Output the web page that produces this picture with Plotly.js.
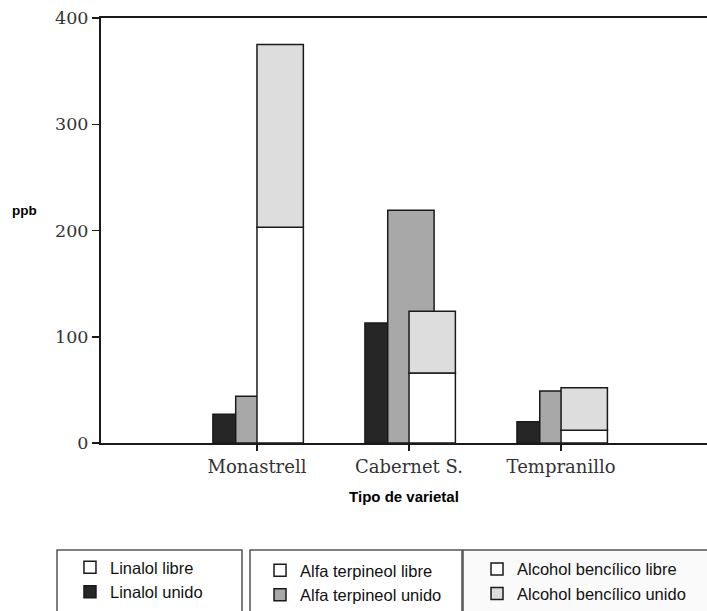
<!DOCTYPE html>
<html>
<head>
<meta charset="utf-8">
<script src="https://cdn.plot.ly/plotly-3.0.1.min.js"></script>
<style>html,body{margin:0;padding:0;background:#fff;}#chart{width:707px;height:611px;}</style>
</head>
<body>
<div id="chart"></div>
<script>
// ---- Data (ppb) ----
const categories = ['Monastrell', 'Cabernet S.', 'Tempranillo'];
const linalolLibre = [0, 0, 0];
const linalolUnido = [27, 113, 20];
const alfaLibre = [0, 0, 0];
const alfaUnido = [44, 219, 49];
const alcoholLibre = [203, 66, 12];
const alcoholUnido = [172, 58, 40];
const yTicks = [0, 100, 200, 300, 400];

const seriesNames = {
  linalolLibre: 'Linalol libre',
  linalolUnido: 'Linalol unido',
  alfaLibre: 'Alfa terpineol libre',
  alfaUnido: 'Alfa terpineol unido',
  alcoholLibre: 'Alcohol bencílico libre',
  alcoholUnido: 'Alcohol bencílico unido'
};

// ---- Styles ----
const outline = {color: '#1a1a1a', width: 1.5};
const W = 0.305;
function bar(name, y, base, color, offset, legend) {
  return {
    type: 'bar', name: name, x: categories, y: y, base: base,
    offset: offset, width: W,
    marker: {color: color, line: outline},
    legend: legend, hoverinfo: 'skip'
  };
}

const traces = [
  bar(seriesNames.linalolLibre, linalolLibre, undefined, '#ffffff', -0.29, 'legend'),
  bar(seriesNames.linalolUnido, linalolUnido, linalolLibre, '#262626', -0.29, 'legend'),
  bar(seriesNames.alfaLibre, alfaLibre, undefined, '#ffffff', -0.14, 'legend2'),
  bar(seriesNames.alfaUnido, alfaUnido, alfaLibre, '#a8a8a8', -0.14, 'legend2'),
  bar(seriesNames.alcoholLibre, alcoholLibre, undefined, '#ffffff', 0.0, 'legend3'),
  bar(seriesNames.alcoholUnido, alcoholUnido, alcoholLibre, '#dddddd', 0.0, 'legend3')
];

const legendFont = {family: 'Liberation Sans, Arial, sans-serif', size: 16.5, color: '#111'};
function leg(x, y) {
  return {x: x, y: y, xanchor: 'left', yanchor: 'top', orientation: 'v',
    bgcolor: 'rgba(0,0,0,0)', borderwidth: 0, font: legendFont, traceorder: 'normal'};
}
function box(x0, x1, fill) {
  return {type: 'rect', xref: 'paper', yref: 'paper', x0: x0, x1: x1, y0: -0.2518, y1: -0.44,
    line: {color: '#555', width: 1.5}, fillcolor: fill, layer: 'below'};
}

const serif = 'DejaVu Serif, serif';
const layout = {
  width: 707, height: 611,
  margin: {l: 101, r: 0, t: 18, b: 168, autoexpand: false},
  paper_bgcolor: '#ffffff', plot_bgcolor: '#ffffff',
  barmode: 'overlay',
  showlegend: true,
  xaxis: {
    type: 'category', range: [-1.026, 2.96],
    showline: true, linecolor: '#1a1a1a', linewidth: 2, mirror: true,
    ticks: 'outside', ticklen: 6, tickwidth: 1.5, tickcolor: '#1a1a1a',
    showgrid: false, zeroline: false,
    tickfont: {family: serif, size: 18, color: '#333'},
    title: {text: '<b>Tipo de varietal</b>', font: {family: 'Liberation Sans, Arial, sans-serif', size: 15, color: '#000'}, standoff: 16}
  },
  yaxis: {
    range: [0, 400], tickvals: yTicks,
    showline: true, linecolor: '#1a1a1a', linewidth: 2,
    ticks: 'outside', ticklen: 7, tickwidth: 1.5, tickcolor: '#1a1a1a',
    showgrid: false, zeroline: false,
    tickfont: {family: serif, size: 17.5, color: '#333'}
  },
  annotations: [{
    text: '<b>ppb</b>', xref: 'paper', yref: 'paper', x: -0.126, y: 0.546,
    xanchor: 'center', yanchor: 'middle', showarrow: false,
    font: {family: 'Liberation Sans, Arial, sans-serif', size: 13.5, color: '#000'}
  }],
  shapes: [box(-0.0726, 0.2327, '#ffffff'), box(0.2459, 0.5957, '#ffffff'), box(0.5974, 1.02, '#fafafa')],
  legend: leg(-0.0512, -0.252),
  legend2: leg(0.2624, -0.259),
  legend3: leg(0.6205, -0.256)
};

Plotly.newPlot('chart', traces, layout, {displayModeBar: false, staticPlot: true});
</script>
</body>
</html>
